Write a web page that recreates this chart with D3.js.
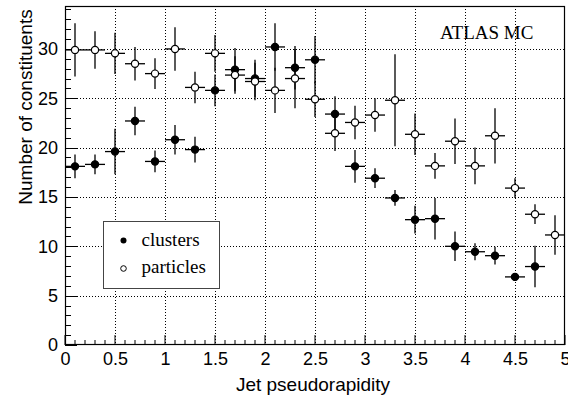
<!DOCTYPE html>
<html><head><meta charset="utf-8">
<script src="https://cdn.jsdelivr.net/npm/d3@7/dist/d3.min.js"></script>
<style>body{margin:0;background:#fff}</style>
</head><body><svg id="c" width="568" height="398"></svg>
<script>
const eta = [0.1,0.3,0.5,0.7,0.9,1.1,1.3,1.5,1.7,1.9,2.1,2.3,2.5,2.7,2.9,3.1,3.3,3.5,3.7,3.9,4.1,4.3,4.5,4.7,4.9];
const clusters =    [18.1,18.3,19.6,22.7,18.6,20.8,19.8,25.8,27.9,27.0,30.2,28.1,28.9,23.4,18.1,16.9,14.9,12.7,12.8,10.0,9.45,9.05,6.9,7.95,null];
const clustersErr = [1.2,1.0,2.3,1.45,1.1,1.5,1.3,1.6,2.2,1.9,2.4,2.2,2.4,1.8,1.65,1.0,0.8,1.4,2.1,1.5,0.85,0.9,0.4,2.1,null];
const particles =    [29.9,29.9,29.55,28.5,27.5,30.0,26.1,29.55,27.35,26.7,25.8,27.0,24.9,21.45,22.55,23.3,24.8,21.35,18.15,20.65,18.15,21.2,15.9,13.25,11.15];
const particlesErr = [2.7,1.9,2.1,1.7,1.55,2.2,1.6,1.85,1.9,1.9,2.3,3.0,1.8,1.8,1.7,1.7,4.65,2.1,1.3,2.3,1.85,2.8,1.0,1.0,2.0];
const etaHalfWidth = 0.1;
const xTicks = [0,0.5,1,1.5,2,2.5,3,3.5,4,4.5,5];
const yTicks = [0,5,10,15,20,25,30];
const xTitle = "Jet pseudorapidity";
const yTitle = "Number of constituents";
const label = "ATLAS MC";
const legendNames = ["clusters","particles"];

const svg = d3.select("#c");
const L=65, R=565, T=6, B=345;
const x = d3.scaleLinear().domain([0,5]).range([L,R]);
const y = d3.scaleLinear().domain([0,34.35]).range([B,T]);
const sans = "Liberation Sans, Arial, sans-serif";
const serif = "Liberation Serif, Times New Roman, serif";

// grid
const g = svg.append("g");
g.selectAll(".gx").data(xTicks.filter(v=>v>0&&v<5)).enter().append("line")
  .attr("x1",d=>x(d)+0.5).attr("x2",d=>x(d)+0.5).attr("y1",T).attr("y2",B)
  .attr("stroke","#000").attr("stroke-width",1).attr("stroke-dasharray","1,2");
g.selectAll(".gy").data(yTicks.filter(v=>v>0)).enter().append("line")
  .attr("x1",L).attr("x2",R).attr("y1",d=>Math.round(y(d))+0.5).attr("y2",d=>Math.round(y(d))+0.5)
  .attr("stroke","#000").attr("stroke-width",1).attr("stroke-dasharray","1,2");

// axes
const xAxis = d3.axisBottom(x).tickValues(xTicks).tickSize(0).tickFormat(d3.format("~g"));
const gx = svg.append("g").attr("transform",`translate(0,${B})`).call(xAxis);
gx.select(".domain").remove();
gx.selectAll("text").attr("font-family",sans).attr("font-size",18).attr("fill","#000").attr("dy","0.95em").attr("y",3);
const xMinor = d3.range(0,5.0001,0.1);
svg.append("g").selectAll("line").data(xMinor).enter().append("line")
  .attr("x1",d=>x(d)).attr("x2",d=>x(d)).attr("y1",B)
  .attr("y2",(d,i)=> B-(i%5===0?10:5)).attr("stroke","#000").attr("stroke-width",1);

const yAxis = d3.axisLeft(y).tickValues(yTicks).tickSize(0);
const gy = svg.append("g").attr("transform",`translate(${L},0)`).call(yAxis);
gy.select(".domain").remove();
gy.selectAll("text").attr("font-family",sans).attr("font-size",18).attr("fill","#000").attr("x",-7);
const yMinor = d3.range(0,34.01,1);
svg.append("g").selectAll("line").data(yMinor).enter().append("line")
  .attr("x1",L).attr("x2",(d)=> L+(d%5===0?12:6))
  .attr("y1",d=>Math.round(y(d))+0.5).attr("y2",d=>Math.round(y(d))+0.5).attr("stroke","#000").attr("stroke-width",1);

// frame
svg.append("rect").attr("x",L+0.5).attr("y",T+0.5).attr("width",R-L-1).attr("height",B-T-1)
  .attr("fill","none").attr("stroke","#000").attr("stroke-width",1.2);

// titles
svg.append("text").attr("x",313).attr("y",391).attr("text-anchor","middle")
  .attr("font-family",sans).attr("font-size",19).text(xTitle);
svg.append("text").attr("transform","translate(32,107) rotate(-90)").attr("text-anchor","middle")
  .attr("font-family",sans).attr("font-size",19).text(yTitle);
svg.append("text").attr("x",440).attr("y",39).attr("font-family",serif).attr("font-size",19).text(label);

// data
function drawSeries(vals, errs, filled){
  const pts = eta.map((e,i)=>({e, v:vals[i], err:errs[i]})).filter(p=>p.v!=null);
  const gg = svg.append("g");
  gg.selectAll(".h").data(pts).enter().append("line")
    .attr("x1",p=>x(p.e-etaHalfWidth)).attr("x2",p=>x(p.e+etaHalfWidth))
    .attr("y1",p=>y(p.v)).attr("y2",p=>y(p.v)).attr("stroke","#000").attr("stroke-width",1.3);
  gg.selectAll(".v").data(pts).enter().append("line")
    .attr("x1",p=>x(p.e)).attr("x2",p=>x(p.e))
    .attr("y1",p=>y(p.v-p.err)).attr("y2",p=>y(p.v+p.err)).attr("stroke","#000").attr("stroke-width",1.3);
  gg.selectAll("circle").data(pts).enter().append("circle")
    .attr("cx",p=>x(p.e)).attr("cy",p=>y(p.v)).attr("r",filled?3.6:3.6)
    .attr("fill",filled?"#000":"#fff").attr("stroke","#000").attr("stroke-width",1.2);
}
drawSeries(clusters, clustersErr, true);
drawSeries(particles, particlesErr, false);

// legend
const lg = svg.append("g");
lg.append("rect").attr("x",103.5).attr("y",221.5).attr("width",116).attr("height",67)
  .attr("fill","#fff").attr("stroke","#444").attr("stroke-width",1);
lg.append("circle").attr("cx",123.5).attr("cy",240.5).attr("r",3).attr("fill","#000");
lg.append("circle").attr("cx",123.5).attr("cy",268.5).attr("r",2.8).attr("fill","#fff").attr("stroke","#000").attr("stroke-width",1);
lg.append("text").attr("x",141.5).attr("y",245.5).attr("font-family",serif).attr("font-size",19).text(legendNames[0]);
lg.append("text").attr("x",141.5).attr("y",273).attr("font-family",serif).attr("font-size",19).text(legendNames[1]);
</script></body></html>
